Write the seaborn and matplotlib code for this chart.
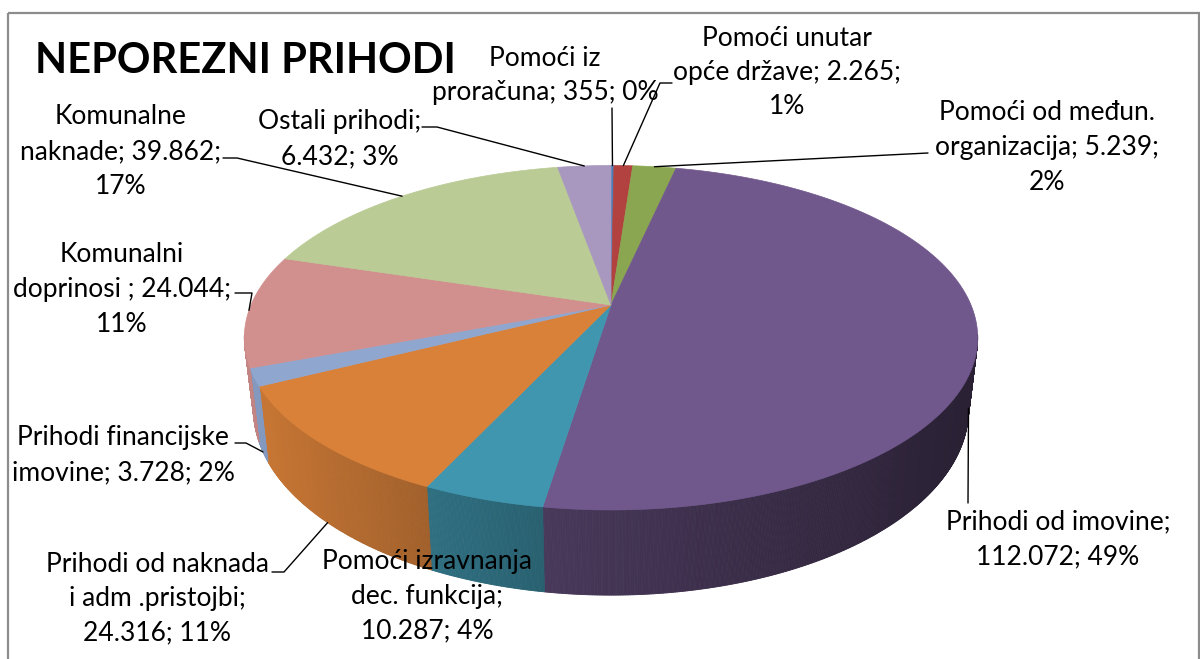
import numpy as np
import matplotlib
matplotlib.use("Agg")
import matplotlib.pyplot as plt
import seaborn as sns
from matplotlib.collections import PolyCollection
from matplotlib.patches import Rectangle

# --- podaci (očitano sa slike) ---
names = ["Pomoći iz\nproračuna", "Pomoći unutar\nopće države", "Pomoći od međun.\norganizacija",
         "Prihodi od imovine", "Pomoći izravnanja\ndec. funkcija", "Prihodi od naknada\ni adm .pristojbi",
         "Prihodi financijske\nimovine", "Komunalni\ndoprinosi ", "Komunalne\nnaknade", "Ostali prihodi"]
values = [355, 2265, 5239, 112072, 10287, 24316, 3728, 24044, 39862, 6432]
percents = ["0%", "1%", "2%", "49%", "4%", "11%", "2%", "11%", "17%", "3%"]
sep_value = [" ", " ", " ", "\n", "\n", "\n", " ", " ", " ", "\n"]
sep_pct = [" ", "\n", "\n", " ", " ", " ", " ", "\n", "\n", " "]
colors = ["#4A7EBB", "#B2423F", "#8AA650", "#70578C", "#3F96AE",
          "#D98139", "#8FA6CF", "#D18F8D", "#BACB95", "#A898BF"]

# --- raspored ---
label_pos = [(545, 58), (787, 38), (1047, 113), (1058, 522), (427, 562),
             (157, 564), (123, 438), (122, 255), (121, 117), (340, 122)]
leader_pts = [[(612, 108)], [(672, 83), (660, 83)], [(928, 153)], [(968, 503)], [],
              [(272, 572), (284, 572)], [(235, 443), (246, 443)], [(235, 293), (252, 293)],
              [(223, 158), (237, 158)], [(422, 127), (437, 127)]]
LINE_STEP = 34.5

CX, CY = 611, 305
RX, RY, K = 360, 166, 0.19
DEPTH, SHRINK = 69, 0.975


def top_pt(theta):
    u, v = np.sin(theta), -np.cos(theta)
    w = 1 - K * v
    return CX + RX * u / w, CY + RY * v / w


def bottom_pt(theta):
    x, y = top_pt(theta)
    v = -np.cos(theta)
    return CX + SHRINK * (x - CX), y + DEPTH / (1 - K * v)


def wall_visible(theta):
    return -np.cos(theta) > K - 0.02


def shade(hex_color, x):
    f = np.interp(x, [245, 430, 545, 980], [0.93, 0.74, 0.64, 0.37])
    return tuple(np.array(matplotlib.colors.to_rgb(hex_color)) * f)


sns.set_theme(style="white")
plt.rcParams["font.family"] = ["Lato", "DejaVu Sans"]
palette = sns.color_palette(colors)

fig = plt.figure(figsize=(12, 6.59), dpi=100)
ax = fig.add_axes([0, 0, 1, 1])
ax.set_xlim(0, 1200)
ax.set_ylim(659, 0)
ax.axis("off")

ax.add_patch(Rectangle((8, 13), 1191, 700, fill=False, ec="#8c8c8c", lw=1.6))

total = sum(values)
bounds = np.concatenate([[0], np.cumsum(values)]) / total * 2 * np.pi

# bočne stijenke
quads, qcols = [], []
for i in range(len(values)):
    th = np.linspace(bounds[i], bounds[i + 1], max(3, int((bounds[i + 1] - bounds[i]) / 0.004)))
    for a, b in zip(th[:-1], th[1:]):
        if not (wall_visible(a) and wall_visible(b)):
            continue
        ta, tb, ba, bb = top_pt(a), top_pt(b), bottom_pt(a), bottom_pt(b)
        quads.append([ta, tb, bb, ba])
        qcols.append(shade(colors[i], (ta[0] + tb[0]) / 2))
ax.add_collection(PolyCollection(quads, facecolors=qcols, edgecolors=qcols, linewidths=0.6))

# gornje plohe
for i in range(len(values)):
    th = np.linspace(bounds[i], bounds[i + 1], max(3, int((bounds[i + 1] - bounds[i]) / 0.01)))
    xs, ys = top_pt(th)
    px = np.concatenate([[CX], xs])
    py = np.concatenate([[CY], ys])
    ax.fill(px, py, color=palette[i], ec=palette[i], lw=0.5)

# oznake i linije
for i, name in enumerate(names):
    val = f"{values[i]:,}".replace(",", ".")
    text = name + ";" + sep_value[i] + val + ";" + sep_pct[i] + percents[i]
    lx, ly = label_pos[i]
    for j, line in enumerate(text.split("\n")):
        ax.text(lx, ly + j * LINE_STEP, line, ha="center", va="center", fontsize=19, color="black")
    if leader_pts[i]:
        mid = (bounds[i] + bounds[i + 1]) / 2
        end = bottom_pt(mid) if wall_visible(mid) else top_pt(mid)
        pts = leader_pts[i] + [end]
        ax.plot([p[0] for p in pts], [p[1] for p in pts], color="black", lw=1.0)

ax.text(35, 61, "NEPOREZNI PRIHODI", fontsize=30, fontweight="bold", ha="left", va="center", color="black")

fig.savefig("out.png", dpi=100)
